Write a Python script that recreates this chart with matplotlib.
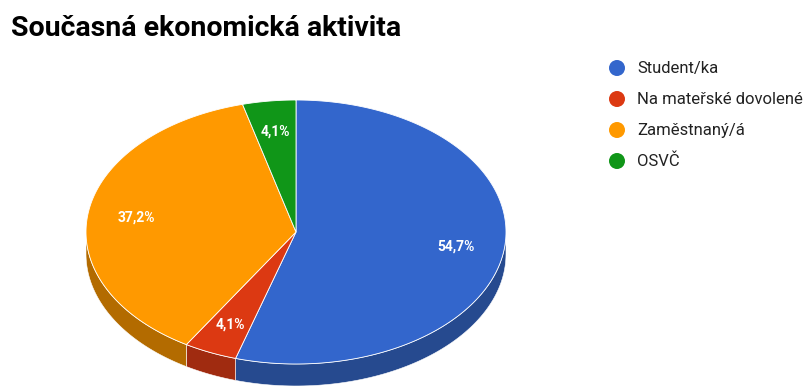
import numpy as np
import matplotlib.pyplot as plt
from matplotlib.patches import Polygon, Circle

title = "Současná ekonomická aktivita"
categories = ["Student/ka", "Na mateřské dovolené", "Zaměstnaný/á", "OSVČ"]
shares = [54.7, 4.1, 37.2, 4.1]
top_colors = ["#3366cc", "#dc3912", "#ff9900", "#109618"]
side_colors = ["#264a8f", "#a02b10", "#b36b00", "#0c6e12"]

W, H = 811, 387
cx, cy = 296, 232      # pie centre (pixels)
rx, ry = 210, 132      # ellipse radii of the tilted disc
depth = 22             # thickness of the disc
label_r = 0.77

plt.rcParams['font.family'] = ['Roboto', 'DejaVu Sans']

fig = plt.figure(figsize=(W / 100, H / 100), dpi=100)
ax = fig.add_axes([0, 0, 1, 1])
ax.set_xlim(0, W)
ax.set_ylim(H, 0)
ax.axis('off')


def rim(theta, drop=0.0):
    # theta in degrees, clockwise from 12 o'clock
    t = np.radians(theta)
    return cx + rx * np.sin(t), cy - ry * np.cos(t) + drop


total = sum(shares)
bounds = np.concatenate([[0], np.cumsum(shares) / total * 360])

# side walls (only the front half, 90..270 deg, is visible)
for i in range(len(shares)):
    a0, a1 = max(bounds[i], 90), min(bounds[i + 1], 270)
    if a1 <= a0:
        continue
    th = np.linspace(a0, a1, 80)
    xs, ys = rim(th)
    xb, yb = rim(th[::-1], depth)
    pts = np.column_stack([np.concatenate([xs, xb]), np.concatenate([ys, yb])])
    ax.add_patch(Polygon(pts, closed=True, facecolor=side_colors[i],
                         edgecolor='white', linewidth=0.4, zorder=1))

# top faces
for i in range(len(shares)):
    th = np.linspace(bounds[i], bounds[i + 1], 200)
    xs, ys = rim(th)
    pts = np.column_stack([np.concatenate([[cx], xs]), np.concatenate([[cy], ys])])
    ax.add_patch(Polygon(pts, closed=True, facecolor=top_colors[i],
                         edgecolor='white', linewidth=0.6, zorder=2))

    mid = np.radians((bounds[i] + bounds[i + 1]) / 2)
    lx = cx + label_r * rx * np.sin(mid)
    ly = cy - label_r * ry * np.cos(mid)
    txt = ("%.1f%%" % shares[i]).replace('.', ',')
    ax.text(lx, ly, txt, color='white', fontsize=10, fontweight='bold',
            ha='center', va='center', zorder=3)

ax.text(11, 29, title, fontsize=20.5, fontweight='bold', color='#000000',
        ha='left', va='center')

# legend
for i, name in enumerate(categories):
    y = 68 + i * 31
    ax.add_patch(Circle((617, y), 8, facecolor=top_colors[i], edgecolor='none'))
    ax.text(637, y, name, fontsize=12, color='#222222', ha='left', va='center')

fig.savefig("out.png", dpi=100)
